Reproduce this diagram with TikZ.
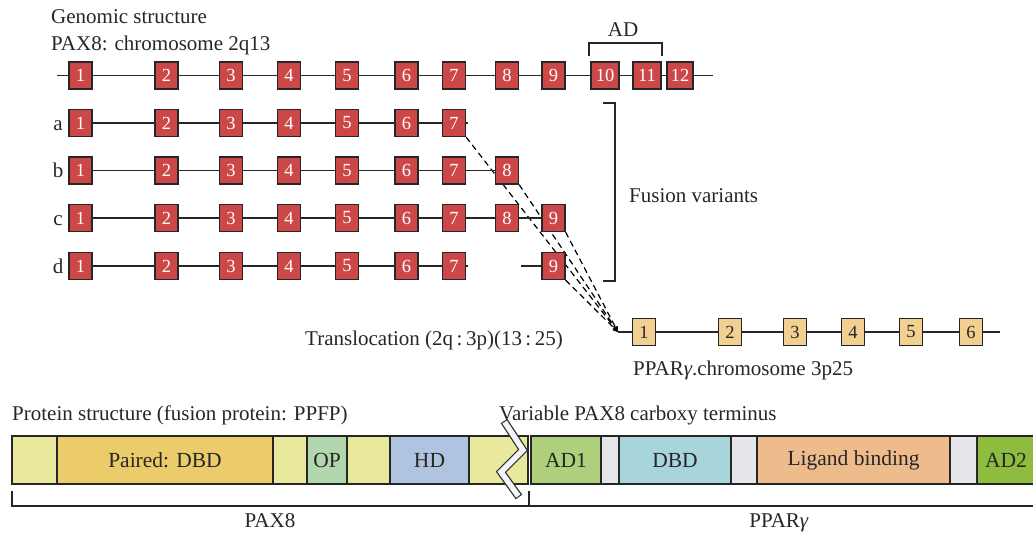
\documentclass[tikz,border=0pt]{standalone}
\usepackage{fontspec}
\setmainfont{Liberation Serif}
\usetikzlibrary{arrows.meta}
\pgfdeclarelayer{background}
\pgfsetlayers{background,main}
\definecolor{txt}{HTML}{262626}
\definecolor{exred}{HTML}{CC4848}
\definecolor{exorange}{HTML}{F2D092}
\definecolor{ly}{HTML}{E8E99C}
\definecolor{pdbd}{HTML}{EBCB6A}
\definecolor{opc}{HTML}{B2D6AE}
\definecolor{hdc}{HTML}{AFC4E1}
\definecolor{adone}{HTML}{AED07C}
\definecolor{gry}{HTML}{E4E6EA}
\definecolor{dbdc}{HTML}{A8D4DC}
\definecolor{lig}{HTML}{EEBC8C}
\definecolor{adtwo}{HTML}{8DBC3E}
\definecolor{brk}{HTML}{F2F5F8}
\begin{document}
\begin{tikzpicture}[x=1pt,y=-1pt,
  every node/.style={text=txt},
  lbl/.style={font=\fontsize{21}{24}\selectfont, inner sep=0pt},
  exon/.style={draw=black!85, line width=1.2pt, fill=exred, text=white,
    minimum width=23pt, minimum height=27pt, inner sep=0pt,
    font=\fontsize{18.5}{18}\selectfont},
  pexon/.style={exon, fill=exorange, text=txt},
  seg/.style={draw=black!85, line width=1.2pt, inner sep=0pt,
    minimum height=48pt, font=\fontsize{21.5}{21}\selectfont},
  conn/.style={line width=1.2pt, draw=black!85},
  fus/.style={line width=1.2pt, dash pattern=on 6pt off 4pt, draw=black,
    -{Straight Barb[length=4pt,width=4pt]}}
]
\useasboundingbox (0,0) rectangle (1033,533);

% titles
\node[lbl, anchor=base west] (t1) at (51,23) {Genomic structure};
\node[lbl, anchor=base west] (t2) at (51,50) {PAX8: chromosome 2q13};

% exons rows
\foreach \i/\x in {1/80.5,2/166.5,3/231,4/289,5/347,6/406.5,7/454}{
  \foreach \r/\y in {g/75.5,a/123,b/170.5,c/218,d/266}{
    \node[exon] (\r\i) at (\x,\y) {\i};
  }
}
\foreach \r/\y in {g/75.5,b/170.5,c/218}{\node[exon] (\r8) at (507,\y) {8};}
\foreach \r/\y in {g/75.5,c/218,d/266}{\node[exon] (\r9) at (553.5,\y) {9};}
\node[exon, minimum width=28pt] (g10) at (605,75.5) {10};
\node[exon, minimum width=28pt] (g11) at (647,75.5) {11};
\node[exon, minimum width=26pt] (g12) at (680,75.5) {12};

% row labels
\foreach \r/\y in {a/123,b/170.5,c/218,d/266}{
  \node[lbl, anchor=base] (l\r) at (58,\y+7) {\r};
}

% connectors within rows
\foreach \r in {g,a,b,c,d}{
  \foreach \i/\j in {1/2,2/3,3/4,4/5,5/6,6/7}{
    \draw[conn] (\r\i.east) -- (\r\j.west);
  }
}
\foreach \r in {g,b,c}{\draw[conn] (\r7.east) -- (\r8.west);}
\foreach \r in {g,c}{\draw[conn] (\r8.east) -- (\r9.west);}
\draw[conn] (g9.east) -- (g10.west);
\draw[conn] (g10.east) -- (g11.west);
\draw[conn] (g11.east) -- (g12.west);
\coordinate (gs) at (57,75.5);
\coordinate (ge) at (713,75.5);
\draw[conn] (gs) -- (g1.west);
\draw[conn] (g12.east) -- (ge);
\coordinate (as) at (468,123);
\draw[conn] (a7.east) -- (as);
\coordinate (ds) at (468,266);
\draw[conn] (d7.east) -- (ds);
\coordinate (dt) at (521,266);
\draw[conn] (dt) -- (d9.west);

% AD bracket
\coordinate (ad1) at (589,56);
\coordinate (ad2) at (589,43);
\coordinate (ad3) at (662,43);
\coordinate (ad4) at (662,56);
\draw[conn] (ad1) -- (ad2) -- (ad3) -- (ad4);
\node[lbl, anchor=base] (adl) at (623,36) {AD};

% Fusion variants bracket
\coordinate (fv1) at (603,103);
\coordinate (fv2) at (615,103);
\coordinate (fv3) at (615,281);
\coordinate (fv4) at (603,281);
\draw[conn] (fv1) -- (fv2) -- (fv3) -- (fv4);
\node[lbl, anchor=base west] (fvl) at (629,202) {Fusion variants};

% PPARg row
\coordinate (P) at (618,332);
\foreach \i/\x in {1/644,2/730,3/795,4/853,5/911,6/971}{
  \node[pexon] (p\i) at (\x,332) {\i};
}
\coordinate (pe) at (1000,332);
\draw[conn] (P) -- (p1.west);
\foreach \i/\j in {1/2,2/3,3/4,4/5,5/6}{\draw[conn] (p\i.east) -- (p\j.west);}
\draw[conn] (p6.east) -- (pe);
\node[lbl, anchor=base west] (trl) at (305,345) {Translocation (2q\,:\,3p)(13\,:\,25)};
\node[lbl, anchor=base west] (ppl) at (633,375) {PPAR\textit{γ}.chromosome 3p25};

% dashed fusion lines
\begin{pgfonlayer}{background}
  \draw[fus] (a7.south east) -- (P);
  \draw[fus] (b8.south east) -- (P);
  \draw[fus] (c9.south east) -- (P);
  \draw[fus] (d9.south east) -- (P);
\end{pgfonlayer}

% protein structure
\node[lbl, anchor=base west] (pst) at (12,420) {Protein structure (fusion protein: PPFP)};
\node[lbl, anchor=base west] (vpc) at (499,420) {Variable PAX8 carboxy terminus};

\node[seg, fill=ly,    minimum width=45pt]  (s1)  at (34.5,460) {};
\node[seg, fill=pdbd,  minimum width=216pt] (s2)  at (165,460) {Paired: DBD};
\node[seg, fill=ly,    minimum width=34pt]  (s3)  at (290,460) {};
\node[seg, fill=opc,   minimum width=40pt]  (s4)  at (327,460) {OP};
\node[seg, fill=ly,    minimum width=43pt]  (s5)  at (368.5,460) {};
\node[seg, fill=hdc,   minimum width=79pt]  (s6)  at (429.5,460) {HD};
\node[seg, fill=ly,    minimum width=59pt]  (s7)  at (498.5,460) {};
\node[seg, fill=adone, minimum width=70pt]  (s8)  at (566,460) {AD1};
\node[seg, fill=gry,   minimum width=18pt]  (s9)  at (610,460) {};
\node[seg, fill=dbdc,  minimum width=112pt] (s10) at (675,460) {DBD};
\node[seg, fill=gry,   minimum width=26pt]  (s11) at (744,460) {};
\node[seg, fill=lig,   minimum width=193pt] (s12) at (853.5,460) {Ligand binding};
\node[seg, fill=gry,   minimum width=27pt]  (s13) at (963.5,460) {};
\node[seg, fill=adtwo, minimum width=58pt]  (s14) at (1006,460) {AD2};

% break symbol
\coordinate (z1) at (504,421);
\coordinate (z2) at (523,450);
\coordinate (z3) at (501,472);
\coordinate (z4) at (519,497);
\draw[line width=8pt, black!80, line join=miter] (z1) -- (z2) -- (z3) -- (z4);
\draw[line width=5.4pt, brk, line join=miter, shorten <=1.2pt, shorten >=1.2pt] (z1) -- (z2) -- (z3) -- (z4);

% bracket below
\coordinate (b1) at (12,491);
\coordinate (b2) at (12,506);
\coordinate (b3) at (1040,506);
\coordinate (b4) at (529,491);
\coordinate (b5) at (529,506);
\draw[conn] (b1) -- (b2) -- (b3);
\draw[conn] (b4) -- (b5);
\node[lbl, anchor=base] (pax) at (270,527) {PAX8};
\node[lbl, anchor=base] (ppg) at (779,527) {PPAR\textit{γ}};
\end{tikzpicture}
\end{document}
